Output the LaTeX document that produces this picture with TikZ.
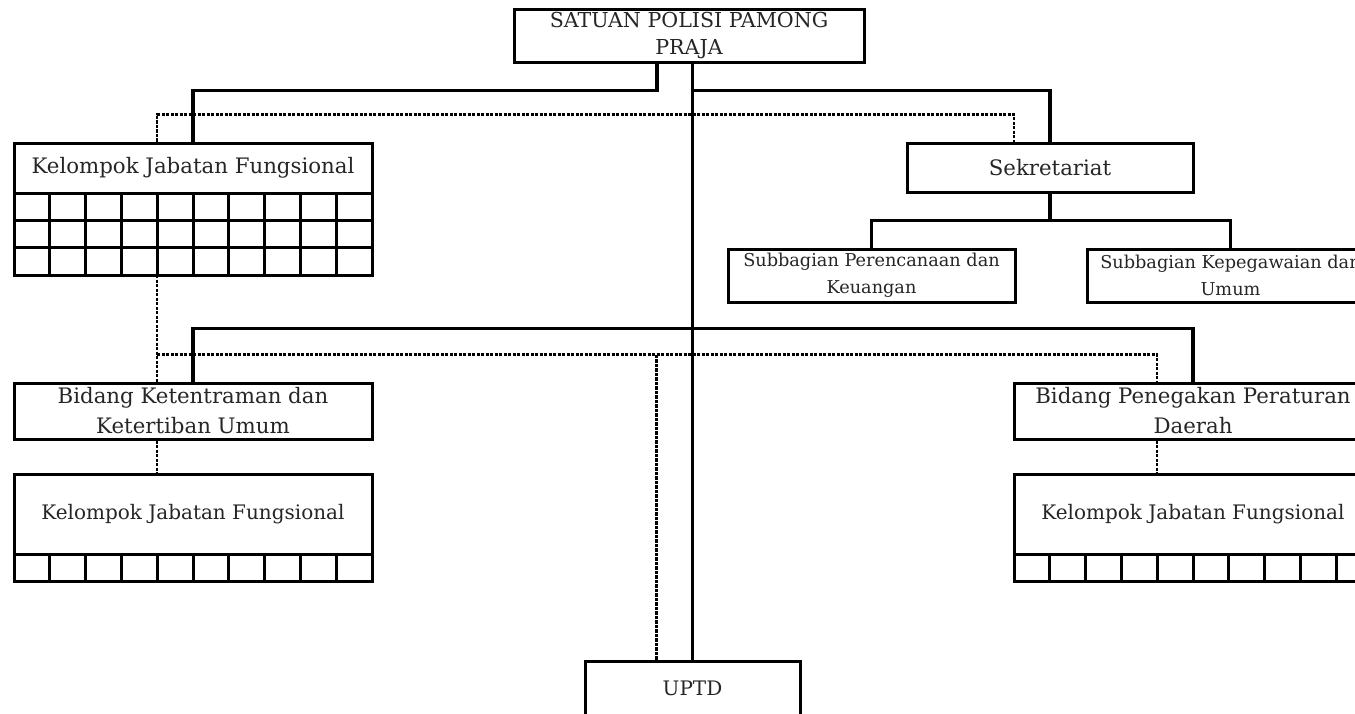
\documentclass[tikz,border=0pt]{standalone}
\usepackage{fontspec}
\setmainfont{DejaVu Serif}
\usetikzlibrary{calc}
\begin{document}
\begin{tikzpicture}[x=1pt,y=-1pt,
  box/.style={draw,line width=3pt,rectangle,inner sep=0pt,align=center,text=black!85},
  conn/.style={line width=3.2pt},
  dotln/.style={line width=2.8pt,dash pattern=on 3.4pt off 1.1pt},
  gridln/.style={line width=3pt},
  ttl/.style={font=\fontsize{20.6}{27}\selectfont},
  big/.style={font=\fontsize{21.3}{30}\selectfont},
  small/.style={font=\fontsize{17.7}{27}\selectfont},
  kjf/.style={font=\fontsize{20}{27}\selectfont}]
\useasboundingbox (0,0) rectangle (1355,713);
\clip (0,0) rectangle (1355,713);

% boxes
\node[box,ttl,minimum width=350pt,minimum height=53pt] (top) at (689,35.5) {SATUAN POLISI PAMONG\\PRAJA};
\node[box,big,minimum width=358pt,minimum height=50pt] (kjf1) at (193,168) {Kelompok Jabatan Fungsional};
\node[box,big,minimum width=286pt,minimum height=49pt] (sek) at (1050,167.5) {Sekretariat};
\node[box,small,minimum width=287pt,minimum height=53pt] (subp) at (871.5,275.5) {Subbagian Perencanaan dan\\Keuangan};
\node[box,small,minimum width=287pt,minimum height=53pt] (subk) at (1230.5,275.5) {Subbagian Kepegawaian dan\\Umum};
\node[box,big,minimum width=358pt,minimum height=56pt] (bidk) at (193,411) {Bidang Ketentraman dan\\Ketertiban Umum};
\node[box,big,minimum width=358pt,minimum height=56pt] (bidp) at (1193,411) {Bidang Penegakan Peraturan\\Daerah};
\node[box,kjf,minimum width=358pt,minimum height=80pt] (kjf2) at (193,514) {Kelompok Jabatan Fungsional};
\node[box,kjf,minimum width=358pt,minimum height=80pt] (kjf3) at (1193,514) {Kelompok Jabatan Fungsional};
\node[box,kjf,minimum width=215pt,minimum height=54pt] (uptd) at (692.5,688) {UPTD};

% grids
\draw[gridln] (14,193) rectangle (372,275);
\draw[gridln] (14,220) -- (372,220) (14,247) -- (372,247);
\foreach \i in {1,...,9} \draw[gridln] (14+\i*35.8,193) -- (14+\i*35.8,275);
\coordinate (g1) at (193,275);
\draw[gridln] (14,554) rectangle (372,581);
\foreach \i in {1,...,9} \draw[gridln] (14+\i*35.8,554) -- (14+\i*35.8,581);
\draw[gridln] (1014,554) rectangle (1372,581);
\foreach \i in {1,...,9} \draw[gridln] (1014+\i*35.8,554) -- (1014+\i*35.8,581);

% solid connectors
\coordinate (lx) at (657,0);
\draw[conn] (top.south -| lx) -- ++(0,27) -| (kjf1.north);
\draw[conn] (top.south -| uptd.north) -- (uptd.north);
\draw[conn] (top.south -| uptd.north) ++(0,27) -| (sek.north);
\draw[conn] (sek.south) -- ++(0,27) coordinate (sj);
\draw[conn] (subp.north) |- (sj) -| (subk.north);
\draw[conn] (bidk.north) -- ++(0,-53) -| (bidp.north);

% dotted connectors
\draw[dotln] ([xshift=-36pt]kjf1.north) -- ++(0,-27) -| ([xshift=-36pt]sek.north);
\draw[dotln] ([xshift=-36pt]g1) -- ([xshift=-36pt]bidk.north);
\draw[dotln] ([xshift=-36pt]bidk.north) ++(0,-27) coordinate (dj) -| ([xshift=-36pt]bidp.north);
\draw[dotln] ([xshift=-36pt]uptd.north) -- ([xshift=-36pt]uptd.north |- dj);
\draw[dotln] ([xshift=-36pt]bidk.south) -- ([xshift=-36pt]kjf2.north);
\draw[dotln] ([xshift=-36pt]bidp.south) -- ([xshift=-36pt]kjf3.north);
\end{tikzpicture}
\end{document}
